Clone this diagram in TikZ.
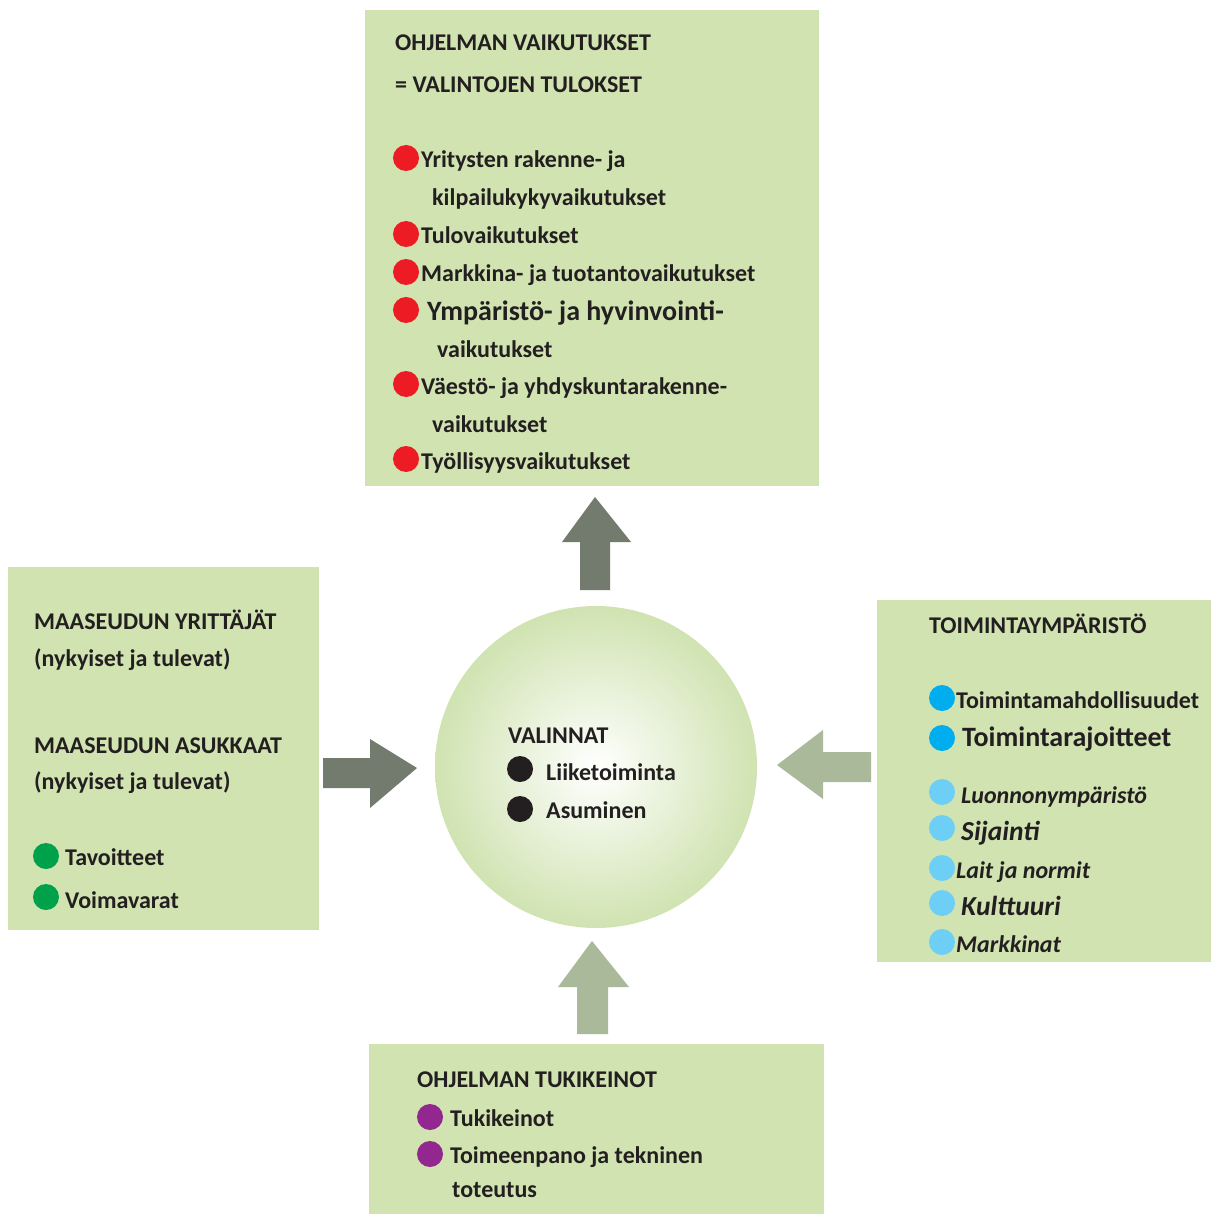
\documentclass[tikz,border=0pt]{standalone}
\usepackage{fontspec}
\setmainfont{Carlito}
\definecolor{boxg}{HTML}{D0E3B1}
\definecolor{ink}{HTML}{231F20}
\definecolor{arrdark}{HTML}{737B6F}
\definecolor{arrlight}{HTML}{A9B999}
\definecolor{dotred}{HTML}{ED1C24}
\definecolor{dotgreen}{HTML}{00A14B}
\definecolor{dotblue}{HTML}{00AEEF}
\definecolor{dotlblue}{HTML}{6DCFF6}
\definecolor{dotpurple}{HTML}{92278F}
\begin{document}
\begin{tikzpicture}[x=1pt,y=-1pt,
  panel/.style={fill=boxg, draw=none, inner sep=0, anchor=north west},
  txt/.style={anchor=base west, inner sep=0, text=ink, font=\fontsize{24}{28}\selectfont\bfseries},
  bigtxt/.style={txt, font=\fontsize{28}{32}\selectfont\bfseries},
  ittxt/.style={txt, font=\fontsize{24}{28}\selectfont\bfseries\itshape},
  bigit/.style={txt, font=\fontsize{27.5}{30}\selectfont\bfseries\itshape},
  bullet/.style={circle, inner sep=0, minimum size=26, draw=none, fill=#1},
  darkarrow/.style={fill=arrdark, draw=none},
  lightarrow/.style={fill=arrlight, draw=none}]
\useasboundingbox (0,0) rectangle (1211,1214);
\fill[white] (0,0) rectangle (1211,1214);

% panels
\node[panel, minimum width=454, minimum height=476] (top) at (365,10) {};
\node[panel, minimum width=311, minimum height=363] (left) at (8,567) {};
\node[panel, minimum width=334, minimum height=362] (right) at (877,600) {};
\node[panel, minimum width=455, minimum height=170] (bottom) at (369,1044) {};

% central circle
\node[circle, minimum size=322, inner sep=0, shading=radial, inner color=white, outer color=boxg] (centre) at (596,767) {};

% arrows
\fill[darkarrow] (580,590) -- (580,542) -- (562,542) -- (595,497) -- (631,542) -- (610,542) -- (610,590) -- cycle;
\fill[darkarrow] (323,758) -- (370,758) -- (370,739) -- (417,768) -- (370,808) -- (370,788) -- (323,788) -- cycle;
\fill[lightarrow] (871,752) -- (823,752) -- (823,730) -- (777,765) -- (823,799) -- (823,782) -- (871,782) -- cycle;
\fill[lightarrow] (577,1034) -- (577,987) -- (558,987) -- (592,941) -- (629,987) -- (608,987) -- (608,1034) -- cycle;

% top panel text
\node[txt] (t1) at (395,51) {OHJELMAN VAIKUTUKSET};
\node[txt] (t2) at (395,93) {= VALINTOJEN TULOKSET};
\node[bullet=dotred] (r1) at (406,158) {};
\node[txt] (r1t) at (421,168) {Yritysten rakenne- ja};
\node[txt] (r1u) at (432,206) {kilpailukykyvaikutukset};
\node[bullet=dotred] (r2) at (406,234) {};
\node[txt] (r2t) at (421,244) {Tulovaikutukset};
\node[bullet=dotred] (r3) at (406,272) {};
\node[txt] (r3t) at (421,282) {Markkina- ja tuotantovaikutukset};
\node[bullet=dotred] (r4) at (406,310) {};
\node[bigtxt] (r4t) at (427,320) {Ympäristö- ja hyvinvointi-};
\node[txt] (r4u) at (437,357) {vaikutukset};
\node[bullet=dotred] (r5) at (406,384) {};
\node[txt] (r5t) at (421,394) {Väestö- ja yhdyskuntarakenne-};
\node[txt] (r5u) at (432,432) {vaikutukset};
\node[bullet=dotred] (r6) at (406,459) {};
\node[txt] (r6t) at (421,469) {Työllisyysvaikutukset};

% left panel text
\node[txt] (l1) at (34,629) {MAASEUDUN YRITTÄJÄT};
\node[txt] (l2) at (34,666) {(nykyiset ja tulevat)};
\node[txt] (l3) at (34,753) {MAASEUDUN ASUKKAAT};
\node[txt] (l4) at (34,789) {(nykyiset ja tulevat)};
\node[bullet=dotgreen] (g1) at (46,856) {};
\node[txt] (g1t) at (65,865) {Tavoitteet};
\node[bullet=dotgreen] (g2) at (46,897) {};
\node[txt] (g2t) at (65,908) {Voimavarat};

% right panel text
\node[txt] (e0) at (929,633) {TOIMINTAYMPÄRISTÖ};
\node[bullet=dotblue] (b1) at (942,698) {};
\node[txt] (b1t) at (956,708) {Toimintamahdollisuudet};
\node[bullet=dotblue] (b2) at (942,738) {};
\node[bigtxt] (b2t) at (962,746) {Toimintarajoitteet};
\node[bullet=dotlblue] (c1) at (942,792) {};
\node[ittxt] (c1t) at (961,803) {Luonnonympäristö};
\node[bullet=dotlblue] (c2) at (942,828) {};
\node[bigit] (c2t) at (961,840) {Sijainti};
\node[bullet=dotlblue] (c3) at (942,868) {};
\node[ittxt] (c3t) at (956,878) {Lait ja normit};
\node[bullet=dotlblue] (c4) at (942,903) {};
\node[bigit] (c4t) at (961,915) {Kulttuuri};
\node[bullet=dotlblue] (c5) at (942,942) {};
\node[ittxt] (c5t) at (956,952) {Markkinat};

% centre text
\node[txt] (v0) at (508,743) {VALINNAT};
\node[bullet=ink] (k1) at (520,769) {};
\node[txt] (k1t) at (546,780) {Liiketoiminta};
\node[bullet=ink] (k2) at (520,809) {};
\node[txt] (k2t) at (546,818) {Asuminen};

% bottom panel text
\node[txt] (s0) at (417,1087) {OHJELMAN TUKIKEINOT};
\node[bullet=dotpurple] (p1) at (430,1117) {};
\node[txt] (p1t) at (450,1126) {Tukikeinot};
\node[bullet=dotpurple] (p2) at (430,1154) {};
\node[txt] (p2t) at (450,1163) {Toimeenpano ja tekninen};
\node[txt] (p2u) at (452,1197) {toteutus};
\end{tikzpicture}
\end{document}
